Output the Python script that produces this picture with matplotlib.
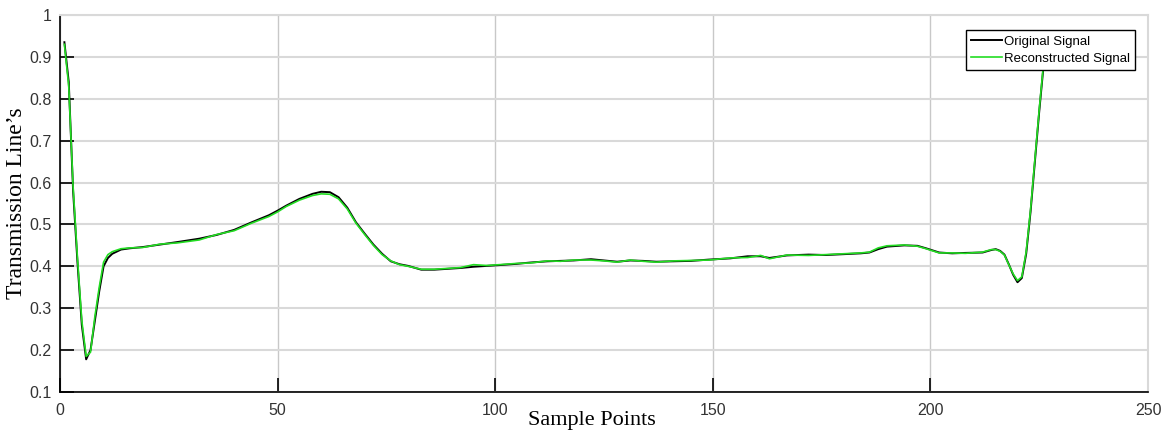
import matplotlib.pyplot as plt
import numpy as np

# sample index and signal values
samples = [1, 2, 3, 4, 5, 6, 7, 8, 9, 10, 11, 12, 14, 16, 19, 23, 27, 32, 36, 40,
           44, 48, 50, 52, 55, 58, 60, 62, 64, 66, 68, 70, 72, 74, 76, 78, 80, 83,
           86, 89, 92, 95, 98, 101, 105, 108, 112, 115, 118, 122, 125, 128, 131,
           134, 137, 141, 145, 149, 154, 158, 161, 163, 167, 172, 176, 180, 184,
           186, 188, 190, 194, 197, 199, 202, 205, 208, 212, 214, 215, 216, 217,
           218, 219, 220, 221, 222, 223, 224, 225, 226, 227]
original = [0.935, 0.84, 0.58, 0.41, 0.26, 0.178, 0.20, 0.27, 0.34, 0.40, 0.42,
            0.43, 0.44, 0.443, 0.446, 0.452, 0.458, 0.466, 0.475, 0.487, 0.505,
            0.522, 0.533, 0.545, 0.561, 0.573, 0.578, 0.577, 0.565, 0.54, 0.505,
            0.478, 0.452, 0.43, 0.412, 0.405, 0.401, 0.392, 0.392, 0.394, 0.396,
            0.399, 0.401, 0.403, 0.406, 0.409, 0.412, 0.413, 0.414, 0.417, 0.414,
            0.411, 0.414, 0.413, 0.411, 0.412, 0.413, 0.416, 0.419, 0.424, 0.424,
            0.42, 0.426, 0.428, 0.427, 0.429, 0.431, 0.433, 0.441, 0.447, 0.45,
            0.449, 0.443, 0.433, 0.431, 0.432, 0.433, 0.439, 0.441, 0.437, 0.428,
            0.405, 0.38, 0.362, 0.372, 0.43, 0.53, 0.65, 0.77, 0.88, 0.95]
reconstructed = [0.93, 0.83, 0.59, 0.42, 0.27, 0.185, 0.195, 0.28, 0.35, 0.41,
                 0.428, 0.435, 0.442, 0.444, 0.445, 0.453, 0.456, 0.463, 0.476,
                 0.485, 0.503, 0.519, 0.530, 0.543, 0.558, 0.569, 0.573, 0.572,
                 0.561, 0.537, 0.503, 0.476, 0.450, 0.428, 0.413, 0.404, 0.400,
                 0.393, 0.393, 0.395, 0.397, 0.404, 0.402, 0.404, 0.407, 0.408,
                 0.413, 0.412, 0.415, 0.415, 0.413, 0.410, 0.415, 0.412, 0.410,
                 0.413, 0.414, 0.415, 0.420, 0.421, 0.426, 0.418, 0.427, 0.426,
                 0.428, 0.430, 0.432, 0.434, 0.444, 0.449, 0.451, 0.448, 0.442,
                 0.432, 0.432, 0.431, 0.434, 0.440, 0.440, 0.436, 0.427, 0.404,
                 0.382, 0.366, 0.375, 0.435, 0.535, 0.655, 0.775, 0.885, 0.95]

plt.rcParams['font.family'] = ['Liberation Sans', 'DejaVu Sans']

fig = plt.figure(figsize=(11.66, 4.32), dpi=100)
ax = fig.add_axes([0.0515, 0.0926, 0.9331, 0.8727])

ax.plot(samples, original, color='black', lw=1.4, label='Original Signal')
ax.plot(samples, reconstructed, color='#22dd22', lw=1.2, label='Reconstructed Signal')

ax.set_xlim(0, 250)
ax.set_ylim(0.1, 1.0)
ax.set_xticks([0, 50, 100, 150, 200, 250])
ax.set_yticks(np.arange(0.1, 1.01, 0.1))
ax.set_yticklabels(['0.1', '0.2', '0.3', '0.4', '0.5', '0.6', '0.7', '0.8', '0.9', '1'])

ax.grid(axis='y', color='#d9d9d9', lw=1.5)
ax.grid(axis='x', color='#c8c8c8', lw=1.0)
ax.set_axisbelow(True)

ax.tick_params(direction='in', length=10, width=1.2, colors='black',
               labelcolor='#333333', labelsize=11.5, top=False, right=False)
ax.tick_params(axis='x', pad=8)
ax.tick_params(axis='y', pad=6)

for side in ['top', 'right']:
    ax.spines[side].set_color('#d9d9d9')
    ax.spines[side].set_linewidth(1.5)
for side in ['left', 'bottom']:
    ax.spines[side].set_color('black')
    ax.spines[side].set_linewidth(1.2)

ax.set_xlabel('Sample Points', family='Liberation Serif', fontsize=16)
ax.xaxis.set_label_coords(0.489, -0.05)
ax.set_ylabel("Transmission Line’s", family='Liberation Serif', fontsize=17)
ax.yaxis.set_label_coords(-0.030, 0.5)

leg = ax.legend(loc='upper right', bbox_to_anchor=(0.988, 0.960), fontsize=9.5,
                fancybox=False, framealpha=1, edgecolor='black', borderpad=0.4,
                handlelength=2.3, handletextpad=0.15, labelspacing=0.4,
                borderaxespad=0)
leg.get_frame().set_linewidth(1.0)

fig.savefig('out.png', dpi=100)
